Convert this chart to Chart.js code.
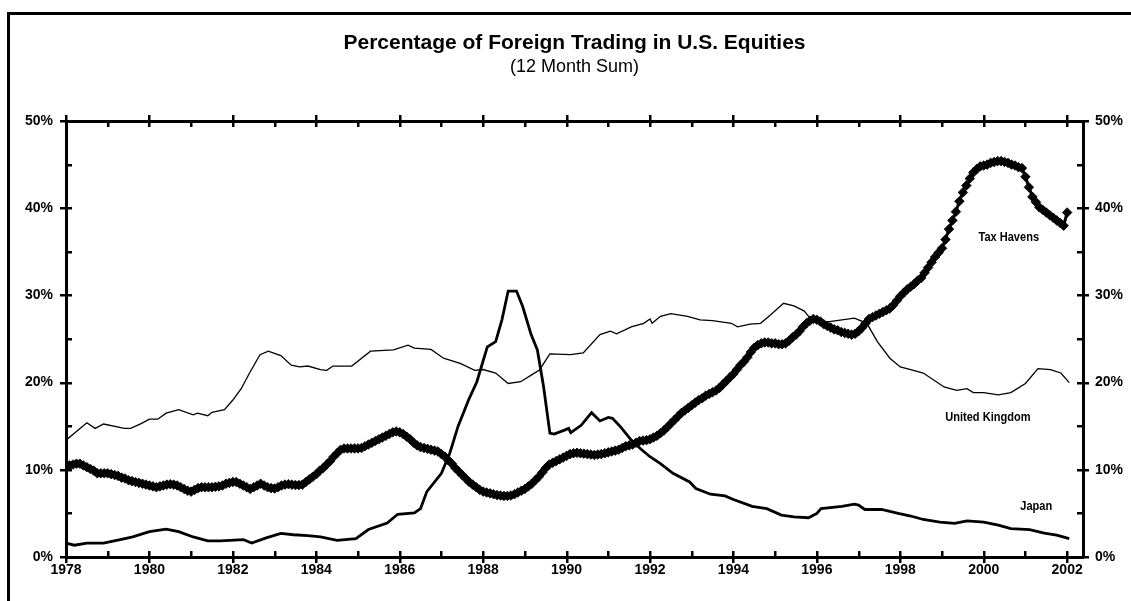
<!DOCTYPE html>
<html>
<head>
<meta charset="utf-8">
<script src="https://cdn.jsdelivr.net/npm/chart.js@4.4.1/dist/chart.umd.min.js"></script>
<style>
  html, body { margin: 0; padding: 0; background: #fff; }
  #wrap { position: relative; width: 1131px; height: 601px; overflow: hidden; }
  #frame { position: absolute; left: 7px; top: 12px; width: 1200px; height: 700px; border: 3px solid #000; }
  #chart { position: absolute; left: 0; top: 0; }
</style>
</head>
<body>
<div id="wrap">
  <div id="frame"></div>
  <canvas id="chart" width="1131" height="601"></canvas>
</div>
<script>
// Tax Havens, valeurs mensuelles de janv. 1978 a janv. 2002 (%)
const taxStart = 1978;
const taxHavens = [
  10.3, 10.5, 10.6, 10.7, 10.7, 10.5, 10.3, 10.1, 9.9, 9.6, 9.6, 9.6,
  9.6, 9.5, 9.4, 9.3, 9.1, 9.0, 8.8, 8.7, 8.6, 8.5, 8.4, 8.3,
  8.2, 8.1, 8.0, 8.1, 8.2, 8.3, 8.35, 8.3, 8.2, 8.0, 7.8, 7.6,
  7.5, 7.7, 7.9, 8.0, 8.0, 8.0, 8.0, 8.05, 8.1, 8.2, 8.4, 8.5,
  8.6, 8.6, 8.4, 8.2, 8.0, 7.8, 8.0, 8.2, 8.4, 8.2, 8.0, 7.9,
  7.85, 8.0, 8.2, 8.3, 8.35, 8.3, 8.25, 8.25, 8.3, 8.6, 8.9, 9.2,
  9.5, 9.9, 10.2, 10.6, 11.0, 11.5, 11.9, 12.3, 12.45, 12.45, 12.45, 12.45,
  12.45, 12.5, 12.7, 12.9, 13.1, 13.3, 13.5, 13.7, 13.9, 14.1, 14.3, 14.4,
  14.3, 14.1, 13.8, 13.5, 13.1, 12.8, 12.6, 12.5, 12.4, 12.3, 12.2, 12.1,
  11.8, 11.5, 11.1, 10.7, 10.2, 9.8, 9.4, 9.0, 8.6, 8.3, 8.0, 7.7,
  7.5, 7.4, 7.3, 7.2, 7.1, 7.05, 7.0, 7.0, 7.05, 7.2, 7.4, 7.6,
  7.8, 8.1, 8.4, 8.8, 9.2, 9.7, 10.2, 10.6, 10.8, 11.0, 11.2, 11.4,
  11.6, 11.8, 11.9, 11.95, 11.9, 11.85, 11.8, 11.75, 11.7, 11.75, 11.8, 11.9,
  12.0, 12.1, 12.2, 12.3, 12.5, 12.7, 12.8, 12.9, 13.1, 13.3, 13.35, 13.4,
  13.5, 13.7, 13.9, 14.2, 14.5, 14.9, 15.3, 15.7, 16.1, 16.5, 16.8, 17.1,
  17.4, 17.7, 18.0, 18.2, 18.5, 18.7, 18.9, 19.1, 19.4, 19.8, 20.2, 20.6,
  21.0, 21.5, 22.0, 22.4, 22.9, 23.5, 24.0, 24.3, 24.5, 24.6, 24.6, 24.5,
  24.5, 24.4, 24.4, 24.5, 24.8, 25.2, 25.5, 25.9, 26.4, 26.8, 27.1, 27.3,
  27.2, 27.0, 26.7, 26.5, 26.3, 26.1, 26.0, 25.8, 25.7, 25.6, 25.5, 25.6,
  25.9, 26.3, 26.8, 27.3, 27.5, 27.7, 27.9, 28.1, 28.3, 28.5, 28.9, 29.4,
  29.9, 30.3, 30.7, 31.0, 31.3, 31.7, 32.0, 32.6, 33.2, 33.8, 34.4, 34.9,
  35.4, 36.4, 37.6, 38.6, 39.6, 40.8, 41.8, 42.6, 43.4, 44.1, 44.5, 44.8,
  44.9, 45.0, 45.2, 45.3, 45.4, 45.4, 45.3, 45.2, 45.0, 44.9, 44.7, 44.6,
  43.6, 42.4, 41.3, 40.7, 40.1, 39.8, 39.5, 39.2, 38.9, 38.6, 38.3, 38.0,
  39.5
];

// United Kingdom
const ukYears = [
  1978.0, 1978.3, 1978.5, 1978.7, 1978.9, 1979.4, 1979.55, 1979.8, 1980.0, 1980.2,
  1980.4, 1980.7, 1981.05, 1981.15, 1981.4, 1981.5, 1981.8, 1982.0, 1982.2, 1982.4,
  1982.65, 1982.85, 1983.15, 1983.4, 1983.6, 1983.8, 1984.1, 1984.25, 1984.4, 1984.85,
  1985.3, 1985.85, 1986.2, 1986.35, 1986.75, 1987.05, 1987.45, 1987.8, 1988.0, 1988.3,
  1988.6, 1988.9, 1989.2, 1989.35, 1989.6, 1990.1, 1990.4, 1990.8, 1991.05, 1991.2,
  1991.55, 1991.85, 1992.0, 1992.05, 1992.25, 1992.5, 1992.9, 1993.2, 1993.5, 1993.95,
  1994.1, 1994.4, 1994.65, 1994.9, 1995.2, 1995.45, 1995.7, 1995.8, 1996.1, 1996.3,
  1996.9, 1997.2, 1997.45, 1997.75, 1998.0, 1998.25, 1998.55, 1999.05, 1999.35, 1999.6,
  1999.75, 2000.0, 2000.35, 2000.65, 2001.0, 2001.3, 2001.6, 2001.85, 2002.05
];
const ukShare = [
  13.4, 14.6, 15.4, 14.75, 15.25, 14.75, 14.75, 15.3, 15.8, 15.8,
  16.5, 16.9, 16.3, 16.5, 16.2, 16.6, 16.9, 18.0, 19.3, 21.1,
  23.2, 23.6, 23.1, 22.0, 21.8, 21.9, 21.5, 21.4, 21.9, 21.9,
  23.6, 23.75, 24.3, 23.95, 23.8, 22.8, 22.2, 21.4, 21.5, 21.1,
  19.9, 20.1, 21.0, 21.45, 23.3, 23.2, 23.4, 25.5, 25.9, 25.6,
  26.4, 26.8, 27.3, 26.8, 27.6, 27.9, 27.6, 27.2, 27.1, 26.8,
  26.4, 26.7, 26.8, 27.8, 29.1, 28.8, 28.2, 27.6, 27.0, 27.0,
  27.4, 26.8, 24.7, 22.8, 21.8, 21.5, 21.1, 19.5, 19.1, 19.3,
  18.85, 18.85, 18.6, 18.85, 19.9, 21.6, 21.5, 21.1, 20.0
];

// Japan
const japanYears = [
  1978.0, 1978.2, 1978.5, 1978.9, 1979.3, 1979.6, 1980.0, 1980.4, 1980.7, 1981.05,
  1981.4, 1981.7, 1982.25, 1982.45, 1982.8, 1983.15, 1983.45, 1983.8, 1984.1, 1984.5,
  1984.95, 1985.25, 1985.7, 1985.95, 1986.35, 1986.5, 1986.65, 1987.0, 1987.2, 1987.4,
  1987.65, 1987.85, 1988.1, 1988.3, 1988.45, 1988.6, 1988.8, 1988.95, 1989.15, 1989.3,
  1989.45, 1989.6, 1989.7, 1989.95, 1990.05, 1990.1, 1990.35, 1990.6, 1990.8, 1991.0,
  1991.1, 1991.3, 1991.55, 1991.8, 1992.0, 1992.25, 1992.55, 1992.95, 1993.1, 1993.45,
  1993.8, 1994.0, 1994.45, 1994.8, 1995.15, 1995.45, 1995.8, 1996.0, 1996.1, 1996.6,
  1996.9, 1997.0, 1997.15, 1997.55, 1997.95, 1998.25, 1998.55, 1998.95, 1999.3, 1999.6,
  2000.0, 2000.35, 2000.65, 2001.1, 2001.45, 2001.75, 2002.05
];
const japanShare = [
  1.6, 1.35, 1.6, 1.6, 2.0, 2.3, 2.9, 3.2, 2.9, 2.3,
  1.85, 1.85, 2.0, 1.6, 2.2, 2.7, 2.55, 2.45, 2.3, 1.9,
  2.1, 3.15, 3.9, 4.9, 5.05, 5.55, 7.5, 9.6, 11.9, 15.0,
  18.0, 20.1, 24.1, 24.7, 27.2, 30.5, 30.5, 28.7, 25.5, 23.75,
  19.5, 14.2, 14.1, 14.55, 14.75, 14.25, 15.1, 16.55, 15.6, 16.0,
  15.9, 14.9, 13.4, 12.3, 11.5, 10.7, 9.6, 8.6, 7.85, 7.2,
  7.0, 6.6, 5.8, 5.55, 4.8, 4.6, 4.5, 5.0, 5.55, 5.8,
  6.05, 5.95, 5.45, 5.45, 5.0, 4.7, 4.3, 4.0, 3.85, 4.15,
  4.0, 3.65, 3.25, 3.15, 2.75, 2.5, 2.1
];

const xMin = 1978;
const xMax = 2002.38;
const yMin = 0;
const yMax = 50;

const fontFamily = 'Arial, "Liberation Sans", Helvetica, sans-serif';

// petites graduations qui traversent les axes (majeures) ou restent a l'interieur (mineures)
const tickMarks = {
  id: 'tickMarks',
  afterDraw(chart) {
    const {ctx, chartArea: a, scales: {x, y}} = chart;
    ctx.save();
    ctx.strokeStyle = '#000';
    ctx.lineWidth = 2.5;
    ctx.beginPath();
    x.ticks.forEach(t => {
      const px = Math.round(x.getPixelForValue(t.value)) + 0.25;
      const out = t.value % 2 === 0 ? 6 : 0;
      ctx.moveTo(px, a.bottom + out);
      ctx.lineTo(px, a.bottom - 6);
      ctx.moveTo(px, a.top - out);
      ctx.lineTo(px, a.top + 6);
    });
    y.ticks.forEach(t => {
      const py = Math.round(y.getPixelForValue(t.value)) + 0.25;
      const out = t.value % 10 === 0 ? 6 : 0;
      ctx.moveTo(a.left - out, py);
      ctx.lineTo(a.left + 6, py);
      ctx.moveTo(a.right + out, py);
      ctx.lineTo(a.right - 6, py);
    });
    ctx.stroke();
    ctx.restore();
  }
};

// noms des series, places dans le graphique
const seriesNames = {
  id: 'seriesNames',
  afterDatasetsDraw(chart, args, opts) {
    const {ctx, scales: {x, y}} = chart;
    ctx.save();
    ctx.fillStyle = '#000';
    ctx.font = 'bold 12px ' + fontFamily;
    ctx.textAlign = 'center';
    ctx.textBaseline = 'middle';
    opts.items.forEach(it => {
      ctx.save();
      ctx.translate(x.getPixelForValue(it.at[0]), y.getPixelForValue(it.at[1]));
      ctx.scale(0.92, 1);
      ctx.fillText(it.text, 0, 0);
      ctx.restore();
    });
    ctx.restore();
  }
};

const pairs = (xs, ys) => xs.map((v, i) => ({x: v, y: ys[i]}));

new Chart(document.getElementById('chart'), {
  type: 'line',
  data: {
    datasets: [
      {
        label: 'Tax Havens',
        data: taxHavens.map((v, i) => ({x: taxStart + i / 12, y: v})),
        borderColor: '#000',
        backgroundColor: '#000',
        borderWidth: 3,
        pointStyle: 'rectRot',
        pointRadius: 4.8,
        pointBorderWidth: 0.8,
        pointBackgroundColor: '#000',
        pointBorderColor: '#000'
      },
      {
        label: 'United Kingdom',
        data: pairs(ukYears, ukShare),
        borderColor: '#000',
        borderWidth: 1.3,
        pointRadius: 0
      },
      {
        label: 'Japan',
        data: pairs(japanYears, japanShare),
        borderColor: '#000',
        borderWidth: 2.8,
        pointRadius: 0
      }
    ]
  },
  options: {
    responsive: false,
    animation: false,
    events: [],
    layout: { padding: { left: 18, right: 0, top: 31, bottom: 0 } },
    elements: { line: { tension: 0 } },
    scales: {
      x: {
        type: 'linear',
        position: 'bottom',
        min: xMin,
        max: xMax,
        afterFit: s => { s.height = 44; },
        grid: { display: false, drawTicks: false, tickLength: 0 },
        border: { display: true, width: 3, color: '#000' },
        ticks: {
          stepSize: 1,
          includeBounds: false,
          autoSkip: false,
          maxRotation: 0,
          padding: 5,
          color: '#000',
          font: { family: fontFamily, size: 14, weight: 'bold' },
          callback: v => (v % 2 === 0 ? String(v) : '')
        }
      },
      xTop: {
        type: 'linear',
        position: 'top',
        min: xMin,
        max: xMax,
        afterFit: s => { s.height = 43.2; },
        grid: { display: false, drawTicks: false, tickLength: 0 },
        border: { display: true, width: 3, color: '#000' },
        ticks: { display: false }
      },
      y: {
        position: 'left',
        min: yMin,
        max: yMax,
        afterFit: s => { s.width = 48; },
        grid: { display: false, drawTicks: false, tickLength: 0 },
        border: { display: true, width: 3, color: '#000' },
        ticks: {
          stepSize: 5,
          autoSkip: false,
          padding: 13,
          color: '#000',
          font: { family: fontFamily, size: 14, weight: 'bold' },
          callback: v => (v % 10 === 0 ? v + '%' : '')
        }
      },
      yRight: {
        position: 'right',
        min: yMin,
        max: yMax,
        afterFit: s => { s.width = 48; },
        grid: { display: false, drawTicks: false, tickLength: 0 },
        border: { display: true, width: 3, color: '#000' },
        ticks: {
          stepSize: 5,
          autoSkip: false,
          padding: 12,
          color: '#000',
          font: { family: fontFamily, size: 14, weight: 'bold' },
          callback: v => (v % 10 === 0 ? v + '%' : '')
        }
      }
    },
    plugins: {
      legend: { display: false },
      tooltip: { enabled: false },
      title: {
        display: true,
        text: 'Percentage of Foreign Trading in U.S. Equities',
        color: '#000',
        padding: { top: 0, bottom: 0 },
        font: { family: fontFamily, size: 21, weight: 'bold', lineHeight: 1.2 }
      },
      subtitle: {
        display: true,
        text: '(12 Month Sum)',
        color: '#000',
        padding: { top: 0, bottom: 0 },
        font: { family: fontFamily, size: 18, weight: 'normal', lineHeight: 1.2 }
      },
      seriesNames: {
        items: [
          { text: 'Tax Havens', at: [2000.6, 36.6] },
          { text: 'United Kingdom', at: [2000.1, 16.0] },
          { text: 'Japan', at: [2001.26, 5.73] }
        ]
      }
    }
  },
  plugins: [tickMarks, seriesNames]
});
</script>
</body>
</html>
